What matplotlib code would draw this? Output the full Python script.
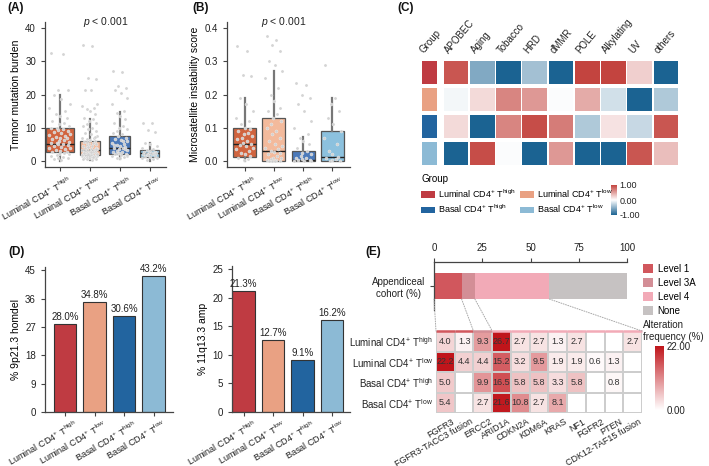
import matplotlib
matplotlib.use('Agg')
import matplotlib.pyplot as plt
import numpy as np
from matplotlib.colors import LinearSegmentedColormap, Normalize
from matplotlib.patches import Patch, ConnectionPatch
from matplotlib.cm import ScalarMappable
from matplotlib.transforms import ScaledTranslation, blended_transform_factory

plt.rcParams['font.family'] = ['Liberation Sans', 'DejaVu Sans']
plt.rcParams['mathtext.fontset'] = 'custom'
plt.rcParams['mathtext.rm'] = 'Liberation Sans'
plt.rcParams['mathtext.it'] = 'Liberation Sans:italic'
plt.rcParams['axes.linewidth'] = 0.9

W, H = 709, 466


def box(l, t, r, b):
    # pixel rectangle -> figure fraction
    return [l / W, 1 - b / H, (r - l) / W, (b - t) / H]


def grp(name, lvl):
    return name + r' CD4$^{+}$ T$^{\mathrm{' + lvl + '}}$'


# ---------------- data ----------------
group_labels = [grp('Luminal', 'high'), grp('Luminal', 'low'),
                grp('Basal', 'high'), grp('Basal', 'low')]

# (A) tumour mutation burden box stats
tmb_q1 = [2.7, 1.9, 2.0, 1.3]
tmb_med = [5.2, 3.4, 3.9, 2.4]
tmb_q3 = [9.9, 6.0, 7.4, 3.4]
tmb_lo = [0.0, 0.3, 0.5, 0.0]
tmb_hi = [19.8, 12.5, 14.8, 5.3]
tmb_pts = [
    [32.5, 32.3, 21.5, 21.3, 19.8, 18.5, 17, 16, 15, 14, 13.5, 12.8, 12, 11.5, 11, 10.5,
     10, 9.8, 9.5, 9.2, 9, 8.8, 8.5, 8, 7.8, 7.5, 7.2, 7, 6.8, 6.5, 6.2, 6, 5.8, 5.5,
     5.3, 5.2, 5, 4.8, 4.5, 4.2, 4, 3.8, 3.5, 3.3, 3, 2.8, 2.7, 2.5, 2.2, 2, 1.8, 1.5,
     1.2, 1, 0.8, 0.5, 0.3],
    [34.8, 34.5, 25, 24.8, 21.5, 21.3, 17, 16.5, 16, 15.5, 15, 14, 13, 12.5, 12, 11.5,
     11, 10.5, 10, 9.5, 9, 8.5, 8, 7.5, 7, 6.8, 6.5, 6.2, 6, 5.8, 5.5, 5.2, 5, 4.8, 4.6,
     4.4, 4.2, 4, 3.8, 3.6, 3.5, 3.4, 3.3, 3.2, 3, 2.9, 2.8, 2.6, 2.5, 2.4, 2.3, 2.2,
     2.1, 2, 1.9, 1.8, 1.7, 1.6, 1.5, 1.4, 1.3, 1.2, 1.1, 1, 0.9, 0.8, 0.7, 0.6, 0.5,
     0.4, 4.1, 3.7, 3.1, 2.7, 2.0, 1.9, 1.4, 5.6, 6.4, 7.2, 2.3, 1.1],
    [27, 26.8, 22.5, 22, 21.5, 20.5, 19, 17, 15, 14.5, 13.5, 12.5, 11.5, 10.5, 10, 9.5,
     9, 8.5, 8, 7.5, 7, 6.5, 6.2, 6, 5.5, 5, 4.7, 4.4, 4.2, 4, 3.8, 3.5, 3.2, 3, 2.8,
     2.6, 2.4, 2.2, 2, 1.8, 1.6, 1.4, 1.2, 1, 0.8, 3.6, 4.9, 5.9, 2.5, 1.7],
    [11.5, 11.3, 9.2, 8.8, 5.5, 5, 4.5, 4, 3.6, 3.3, 3, 2.8, 2.6, 2.5, 2.4, 2.3, 2.2,
     2.1, 2, 1.8, 1.6, 1.5, 1.3, 1, 0.8, 0.5, 0.2],
]

# (B) microsatellite instability box stats
msi_q1 = [0.011, 0.0, 0.0, 0.0]
msi_med = [0.051, 0.03, 0.003, 0.011]
msi_q3 = [0.10, 0.13, 0.031, 0.091]
msi_lo = [0.0, 0.0, 0.0, 0.0]
msi_hi = [0.19, 0.27, 0.073, 0.19]
msi_pts = [
    [0.345, 0.33, 0.26, 0.255, 0.19, 0.17, 0.15, 0.13, 0.12, 0.11, 0.10, 0.095, 0.09,
     0.085, 0.08, 0.075, 0.07, 0.065, 0.06, 0.055, 0.05, 0.048, 0.045, 0.04, 0.035,
     0.03, 0.025, 0.02, 0.015, 0.01, 0.005, 0.002],
    [0.375, 0.365, 0.35, 0.33, 0.30, 0.29, 0.27, 0.25, 0.22, 0.2, 0.18, 0.16, 0.15,
     0.14, 0.13, 0.12, 0.11, 0.10, 0.09, 0.08, 0.07, 0.06, 0.05, 0.045, 0.04, 0.035,
     0.03, 0.028, 0.025, 0.02, 0.015, 0.01, 0.008, 0.005, 0.003, 0.002, 0.001, 0.0,
     0.0, 0.0],
    [0.235, 0.23, 0.2, 0.19, 0.17, 0.15, 0.12, 0.1, 0.08, 0.07, 0.06, 0.05, 0.04, 0.03,
     0.025, 0.02, 0.015, 0.01, 0.008, 0.005, 0.003, 0.002, 0.001, 0.0, 0.0],
    [0.29, 0.19, 0.17, 0.15, 0.13, 0.11, 0.09, 0.07, 0.05, 0.03, 0.02, 0.012, 0.008,
     0.005, 0.002, 0.0, 0.0],
]

# (C) mutational signature scores
sig_names = ['APOBEC', 'Aging', 'Tobacco', 'HRD', 'dMMR', 'POLE', 'Alkylating', 'UV', 'others']
sig_vals = [
    [0.9, -0.55, -1.0, -0.4, -1.0, 1.0, 1.0, 0.25, -1.0],
    [-0.05, 0.2, 0.65, 0.55, -0.02, 0.45, -0.2, -1.0, -0.35],
    [0.2, -1.0, 0.65, 0.95, 0.7, -0.35, 0.15, -0.25, 0.9],
    [-1.0, 0.95, -0.02, -1.0, 0.55, -1.0, -1.0, 0.9, 0.35],
]

# (D) copy number events
homdel_9p21 = [28.0, 34.8, 30.6, 43.2]
amp_11q13 = [21.3, 12.7, 9.1, 16.2]

# (E) actionable alterations
levels = ['Level 1', 'Level 3A', 'Level 4', 'None']
level_pct = [14.3, 6.9, 38.6, 40.2]
genes = ['FGFR3', 'FGFR3-TACC3 fusion', 'ERCC2', 'ARID1A', 'CDKN2A', 'KDM6A', 'KRAS',
         'NF1', 'FGFR2', 'PTEN', 'CDK12-TAF15 fusion']
gene_level = [0, 0, 1, 2, 2, 2, 2, 2, 2, 2, 2]
nan = np.nan
alt_freq = [
    [4.0, 1.3, 9.3, 26.7, 2.7, 2.7, 1.3, 2.7, nan, nan, 2.7],
    [22.2, 4.4, 4.4, 15.2, 3.2, 9.5, 1.9, 1.9, 0.6, 1.3, nan],
    [5.0, nan, 9.9, 16.5, 5.8, 5.8, 3.3, 5.8, nan, 0.8, nan],
    [5.4, nan, 2.7, 21.6, 10.8, 2.7, 8.1, nan, nan, nan, nan],
]

# ---------------- styles ----------------
BOX_COLORS = ['#D0643F', '#F3BA9C', '#4B79B9', '#8CC1DE']
GROUP_COLORS = ['#BF3B42', '#E9A183', '#22649F', '#8CBAD5']
LEVEL_COLORS = ['#D1575D', '#D38E96', '#F2AAB7', '#C6C2C2']
AX_COL = '#444444'
XT_SIZE = 6.6
JIT = np.array([-0.22, 0.08, -0.05, 0.2, -0.15, 0.03, 0.25, -0.27, 0.14, -0.1, 0.0,
                0.18, -0.19, 0.11, -0.02, 0.23, -0.08])

sig_cmap = LinearSegmentedColormap.from_list('sig', ['#1B6392', '#FFFFFF', '#C3443F'])
alt_cmap = LinearSegmentedColormap.from_list('alt', ['#FFFFFF', '#C0151B'])
alt_cmap.set_bad('white')

fig = plt.figure(figsize=(W / 100, H / 100), dpi=100)


def rotated_xlabels(ax, positions, labels, dx, dy, rot, size):
    # x labels drawn as plain texts so they can be nudged (dx right, dy down, pixels)
    ax.set_xticks(positions)
    ax.set_xticklabels([])
    trans = blended_transform_factory(ax.transData, ax.transAxes) + \
        ScaledTranslation(dx / 100, -dy / 100, fig.dpi_scale_trans)
    for x, lab in zip(positions, labels):
        ax.text(x, 0, lab, transform=trans, rotation=rot, ha='right', va='top',
                rotation_mode='anchor', fontsize=size, color='#222222', clip_on=False)


def style_axes(ax):
    for s in ['top', 'right']:
        ax.spines[s].set_visible(False)
    for s in ['left', 'bottom']:
        ax.spines[s].set_color(AX_COL)
    ax.tick_params(colors=AX_COL, labelcolor='#222222', labelsize=7, length=3, width=0.8)


def box_panel(ax, q1, med, q3, lo, hi, pts, widths):
    stats = [dict(q1=a, med=b, q3=c, whislo=d, whishi=e, fliers=[])
             for a, b, c, d, e in zip(q1, med, q3, lo, hi)]
    bp = ax.bxp(stats, positions=range(1, 5), widths=widths, patch_artist=True,
                showfliers=False, showcaps=False,
                boxprops=dict(edgecolor='#555555', linewidth=0.9),
                medianprops=dict(color='#222222', linewidth=1.0),
                whiskerprops=dict(color='#777777', linewidth=1.6))
    for patch, c in zip(bp['boxes'], BOX_COLORS):
        patch.set_facecolor(c)
    for i, p in enumerate(pts):
        xs = i + 1 + np.resize(JIT, len(p)) * widths[i] / 0.7
        ax.scatter(xs, p, s=5, color='#D2D2D2', edgecolors='white', linewidths=0.2,
                   alpha=0.95, zorder=4)
    rotated_xlabels(ax, range(1, 5), group_labels, 8, 7, 29, XT_SIZE)
    style_axes(ax)


# ---------------- (A) ----------------
axA = fig.add_axes(box(45, 22, 166, 167))
box_panel(axA, tmb_q1, tmb_med, tmb_q3, tmb_lo, tmb_hi, tmb_pts, [0.92, 0.68, 0.7, 0.65])
axA.set_ylim(-1.8, 41.8)
axA.set_xlim(0.5, 4.55)
axA.set_yticks([0, 10, 20, 30, 40])
axA.set_ylabel('Tmmor mutation burden', fontsize=7.5, labelpad=3)
axA.text(0.5, 1.0, r'$p$ < 0.001', transform=axA.transAxes, ha='center', va='center',
         fontsize=7.5, color='#222222')

# ---------------- (B) ----------------
axB = fig.add_axes(box(227, 22, 350, 167))
box_panel(axB, msi_q1, msi_med, msi_q3, msi_lo, msi_hi, msi_pts, [0.78] * 4)
axB.set_ylim(-0.018, 0.418)
axB.set_xlim(0.4, 4.6)
axB.set_yticks([0.0, 0.1, 0.2, 0.3, 0.4])
axB.set_yticklabels(['0.0', '0.1', '0.2', '0.3', '0.4'])
axB.set_ylabel('Microsatellite instability score', fontsize=7.5, labelpad=3)
axB.text(0.46, 1.0, r'$p$ < 0.001', transform=axB.transAxes, ha='center', va='center',
         fontsize=7.5, color='#222222')

# ---------------- (C) ----------------
axG = fig.add_axes(box(422, 59, 437, 167))
for i, c in enumerate(GROUP_COLORS):
    axG.bar(0, 0.86, bottom=i - 0.43, width=1.0, color=c)
axG.set_xlim(-0.5, 0.5)
axG.set_ylim(3.5, -0.5)
axG.axis('off')
axG.text(-0.25, -0.65, 'Group', rotation=50, ha='left', va='bottom',
         rotation_mode='anchor', fontsize=7, color='#222222')

axC = fig.add_axes(box(443, 59, 679, 167))
norm_c = Normalize(-1, 1)
for i, row in enumerate(sig_vals):
    axC.bar(np.arange(len(sig_names)), 0.86, bottom=i - 0.43, width=0.94,
            color=sig_cmap(norm_c(np.array(row))))
axC.set_xlim(-0.5, len(sig_names) - 0.5)
axC.set_ylim(3.5, -0.5)
axC.axis('off')
for j, name in enumerate(sig_names):
    axC.text(j - 0.2, -0.65, name, rotation=50, ha='left', va='bottom',
             rotation_mode='anchor', fontsize=7, color='#222222')

handles = [Patch(facecolor=GROUP_COLORS[k], label=group_labels[k]) for k in [0, 2, 1, 3]]
fig.legend(handles=handles, loc='upper left', bbox_to_anchor=(421 / W, 1 - 174 / H),
           ncol=2, frameon=False, fontsize=6.5, title='Group', title_fontsize=7,
           handlelength=1.6, handleheight=0.8, handletextpad=0.25, columnspacing=0.5,
           labelspacing=0.35, borderpad=0, borderaxespad=0, alignment='left')

caxC = fig.add_axes(box(611, 185, 617, 215))
cbC = fig.colorbar(ScalarMappable(norm=norm_c, cmap=sig_cmap), cax=caxC, ticks=[-1, 0, 1])
cbC.ax.set_yticklabels(['-1.00', '0.00', '1.00'])
cbC.ax.tick_params(labelsize=6.5, length=0, pad=2, labelcolor='#222222')
cbC.outline.set_visible(False)

# ---------------- (D) ----------------
axD1 = fig.add_axes(box(45, 267, 173, 412))
xs = np.arange(1, 5)
axD1.bar(xs, homdel_9p21, width=0.75, color=GROUP_COLORS, edgecolor='#333333', linewidth=0.8)
for x, v in zip(xs, homdel_9p21):
    axD1.text(x, v + 0.6, f'{v:.1f}%', ha='center', va='bottom', fontsize=7, color='#222222')
axD1.set_xlim(0.32, 4.66)
axD1.set_ylim(0, 46)
axD1.set_yticks([0, 9, 18, 27, 36, 45])
axD1.set_ylabel('% 9p21.3 homdel', fontsize=7.5, labelpad=3)
rotated_xlabels(axD1, xs, group_labels, 9, 6, 30, XT_SIZE)
style_axes(axD1)

axD2 = fig.add_axes(box(232, 266, 350, 412))
axD2.bar(xs, amp_11q13, width=0.75, color=GROUP_COLORS, edgecolor='#333333', linewidth=0.8)
for x, v in zip(xs, amp_11q13):
    axD2.text(x, v + 0.35, f'{v:.1f}%', ha='center', va='bottom', fontsize=7, color='#222222')
axD2.set_xlim(0.61, 4.61)
axD2.set_ylim(0, 25.6)
axD2.set_yticks([0, 5, 10, 15, 20, 25])
axD2.set_ylabel('% 11q13.3 amp', fontsize=7.5, labelpad=3)
rotated_xlabels(axD2, xs, group_labels, 9, 6, 30, XT_SIZE)
style_axes(axD2)

# ---------------- (E) ----------------
axE1 = fig.add_axes(box(434, 262, 627, 310))
lefts = np.concatenate([[0], np.cumsum(level_pct)[:-1]])
axE1.barh(0, level_pct, left=lefts, height=0.98, color=LEVEL_COLORS)
axE1.set_xlim(0, 100)
axE1.set_ylim(-0.9, 0.9)
axE1.xaxis.tick_top()
axE1.set_xticks([0, 25, 50, 75, 100])
axE1.set_yticks([0])
axE1.set_yticklabels(['Appendiceal\ncohort (%)'], multialignment='center')
for s in ['bottom', 'right']:
    axE1.spines[s].set_visible(False)
for s in ['top', 'left']:
    axE1.spines[s].set_color(AX_COL)
axE1.tick_params(colors=AX_COL, labelcolor='#222222', labelsize=7, length=3, width=0.8)

fig.legend(handles=[Patch(facecolor=c, label=l) for c, l in zip(LEVEL_COLORS, levels)],
           loc='upper left', bbox_to_anchor=(643 / W, 1 - 264 / H), frameon=False,
           fontsize=7, handlelength=1.0, handleheight=1.0, handletextpad=0.5,
           labelspacing=0.4, borderpad=0, borderaxespad=0)

axE2 = fig.add_axes(box(436, 331, 642, 413))
arr = np.ma.masked_invalid(np.array(alt_freq))
axE2.pcolormesh(np.arange(len(genes) + 1) - 0.5, np.arange(len(alt_freq) + 1) - 0.5, arr,
                cmap=alt_cmap, vmin=0, vmax=22, edgecolors='#CDCDCD', linewidth=1.2)
axE2.set_xlim(-0.5, len(genes) - 0.5)
axE2.set_ylim(len(alt_freq) - 0.5, -0.5)
for i, row in enumerate(alt_freq):
    for j, v in enumerate(row):
        if not np.isnan(v):
            axE2.text(j, i, f'{v:.1f}', ha='center', va='center', fontsize=6.5,
                      color='#333333')
for j, lv in enumerate(gene_level):
    axE2.hlines(-0.5, j - 0.5, j + 0.5, colors=LEVEL_COLORS[lv], linewidth=1.8,
                clip_on=False, zorder=5)
for s in axE2.spines.values():
    s.set_visible(False)
axE2.set_yticks(range(len(alt_freq)))
axE2.set_yticklabels(group_labels, fontsize=7)
axE2.tick_params(length=0, pad=2, labelcolor='#222222')
rotated_xlabels(axE2, range(len(genes)), genes, 6, 4, 30, 6.5)

# dotted connectors from cohort bar to the heatmap columns of each level
bounds_bar = np.concatenate([[0], np.cumsum(level_pct)[:3]])
bounds_gene = [-0.5, 1.5, 2.5, len(genes) - 0.5]
for xb, xg in zip(bounds_bar, bounds_gene):
    con = ConnectionPatch(xyA=(xb, -0.49), coordsA=axE1.transData,
                          xyB=(xg, -0.5), coordsB=axE2.transData,
                          linestyle=(0, (1, 1.5)), color='#A8A8A8', linewidth=0.7)
    fig.add_artist(con)

fig.text(643 / W, 1 - 331 / H, 'Alteration\nfrequency (%)', ha='left', va='center',
         fontsize=7, color='#222222', linespacing=1.3)
caxE = fig.add_axes(box(655, 346, 664, 410))
cbE = fig.colorbar(ScalarMappable(norm=Normalize(0, 22), cmap=alt_cmap), cax=caxE,
                   ticks=[0, 22])
cbE.ax.set_yticklabels(['0.00', '22.00'])
cbE.ax.tick_params(labelsize=7, length=0, pad=2, labelcolor='#222222')
cbE.outline.set_visible(False)

# ---------------- panel labels ----------------
for lab, x, y in [('(A)', 7, 8), ('(B)', 192, 8), ('(C)', 397, 8),
                  ('(D)', 8, 252), ('(E)', 365, 252)]:
    fig.text(x / W, 1 - y / H, lab, ha='left', va='center', fontsize=8.5,
             fontweight='bold', color='#111111')

fig.savefig('out.png', dpi=100, facecolor='white')
